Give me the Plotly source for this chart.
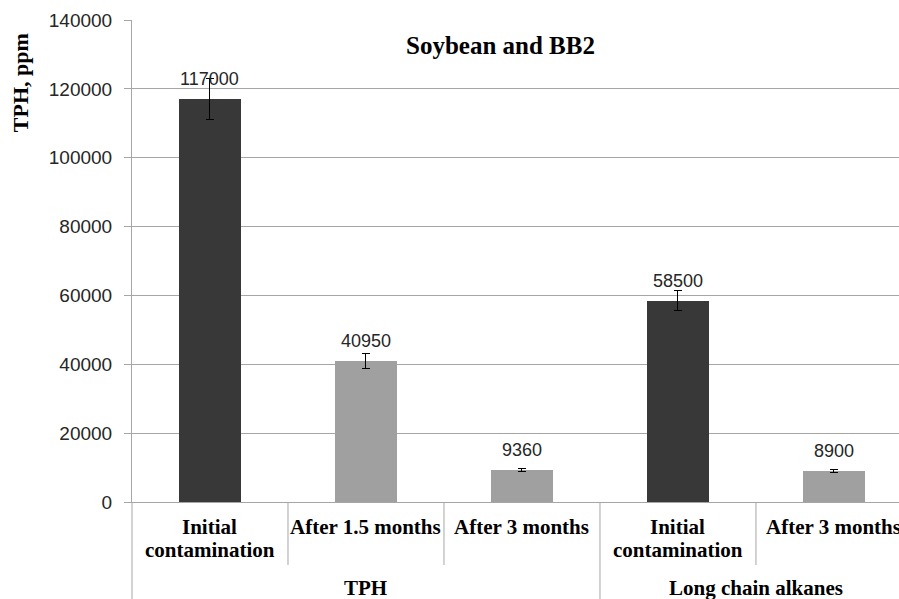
import plotly.graph_objects as go

# Data
groups = ["TPH", "TPH", "TPH", "Long chain alkanes", "Long chain alkanes"]
stages = ["Initial<br>contamination", "After 1.5 months", "After 3 months",
          "Initial<br>contamination", "After 3 months"]
tph_ppm = [117000, 40950, 9360, 58500, 8900]
tph_err = [6000, 2100, 400, 3000, 400]
bar_colors = ["#383838", "#a0a0a0", "#a0a0a0", "#383838", "#a0a0a0"]

title_text = "Soybean and BB2"
y_title = "TPH, ppm"
y_ticks = [0, 20000, 40000, 60000, 80000, 100000, 120000, 140000]

serif = "Liberation Serif"
sans = "Liberation Sans"
grid = "#a6a6a6"

xpos = list(range(len(stages)))

fig = go.Figure()
fig.add_trace(go.Bar(
    x=xpos, y=tph_ppm, width=0.4,
    marker=dict(color=bar_colors, line=dict(width=0)),
    error_y=dict(type="data", array=tph_err, visible=True,
                 color="#000000", thickness=1, width=4),
    hoverinfo="skip",
))

annotations = []
# value labels above each bar
for x, v in zip(xpos, tph_ppm):
    annotations.append(dict(x=x, y=v, xref="x", yref="y", text=str(v),
                            showarrow=False, yanchor="middle", yshift=20,
                            font=dict(family=sans, size=18, color="#262626")))

# category labels (one annotation per line)
for x, s in zip(xpos, stages):
    for i, line in enumerate(s.split("<br>")):
        annotations.append(dict(x=x, y=0, xref="x", yref="y", text=f"<b>{line}</b>",
                                showarrow=False, yanchor="middle",
                                yshift=-25 - 23 * i,
                                font=dict(family=serif, size=21, color="#000000")))

# group labels
group_spans = {}
for x, g in zip(xpos, groups):
    group_spans.setdefault(g, []).append(x)
for g, xs in group_spans.items():
    annotations.append(dict(x=(min(xs) + max(xs)) / 2, y=0, xref="x", yref="y",
                            text=f"<b>{g}</b>", showarrow=False, yanchor="middle",
                            yshift=-86,
                            font=dict(family=serif, size=21, color="#000000")))

annotations.append(dict(x=0.48, y=0.948, xref="paper", yref="paper",
                        xanchor="center", yanchor="middle",
                        text=f"<b>{title_text}</b>", showarrow=False,
                        font=dict(family=serif, size=25, color="#000000")))
annotations.append(dict(x=-0.146, y=0.869, xref="paper", yref="paper",
                        xanchor="center", yanchor="middle",
                        text=f"<b>{y_title}</b>", showarrow=False, textangle=-90,
                        font=dict(family=serif, size=22, color="#000000")))

shapes = []
# separators between categories below the axis
for i in range(1, len(stages)):
    boundary = i - 0.5
    deep = groups[i] != groups[i - 1]
    shapes.append(dict(type="line", xref="x", yref="paper",
                       x0=boundary, x1=boundary, y0=0,
                       y1=-0.25 if deep else -63 / 482,
                       line=dict(color=grid, width=1)))
shapes.append(dict(type="line", xref="paper", yref="paper", x0=0, x1=0,
                   y0=0, y1=-0.25, line=dict(color=grid, width=1)))

fig.update_layout(
    width=899, height=599,
    margin=dict(l=132, r=0, t=20, b=97),
    plot_bgcolor="white", paper_bgcolor="white",
    showlegend=False,
    annotations=annotations,
    shapes=shapes,
    xaxis=dict(range=[-0.5, 4.417], showticklabels=False, showgrid=False,
               zeroline=False, showline=True, linecolor=grid, linewidth=1,
               ticks=""),
    yaxis=dict(range=[0, 140000], tickvals=y_ticks,
               tickformat="d", showgrid=True, gridcolor=grid, gridwidth=1,
               zeroline=False, showline=True, linecolor=grid, linewidth=1,
               ticks="outside", ticklen=7, tickcolor=grid,
               ticklabelstandoff=8,
               tickfont=dict(family=sans, size=19, color="#262626")),
    bargap=0,
)

fig.write_html("out.html")
